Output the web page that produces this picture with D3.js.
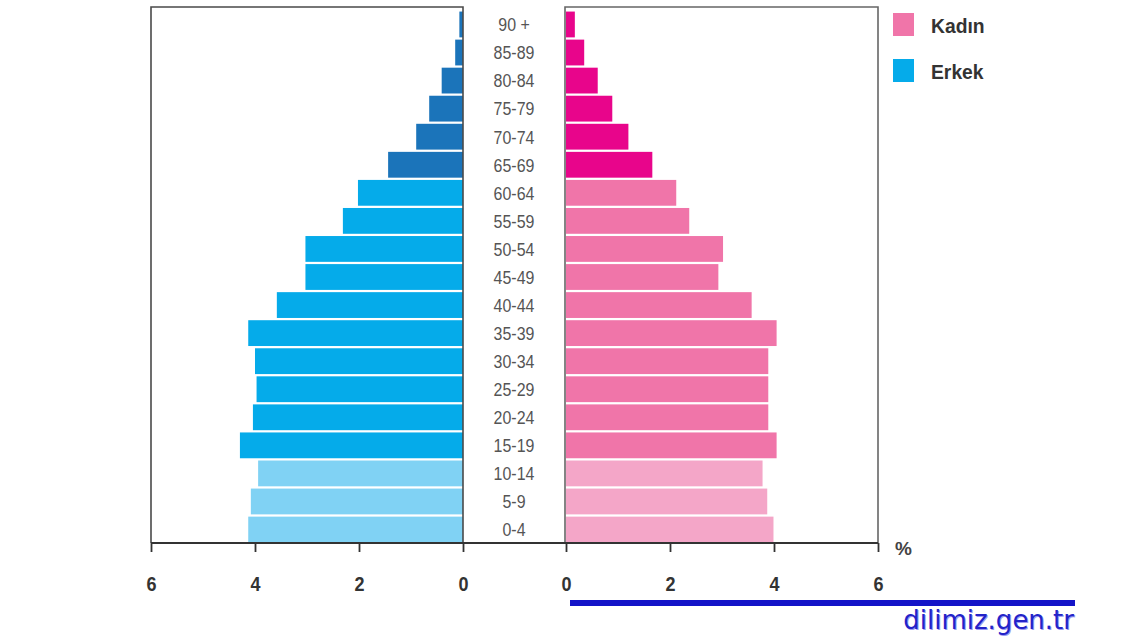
<!DOCTYPE html>
<html>
<head>
<meta charset="utf-8">
<script src="https://cdn.jsdelivr.net/npm/d3@7/dist/d3.min.js"></script>
<style>
  html, body { margin: 0; padding: 0; background: #ffffff; }
  svg { display: block; }
  .narrow { font-family: "Liberation Sans Narrow", "Arial Narrow", "Liberation Sans", Arial, sans-serif; }
</style>
</head>
<body>
<svg id="chart" width="1140" height="641"></svg>
<script>
// ---- data (percent of population) ----
const ageGroups = ["0-4","5-9","10-14","15-19","20-24","25-29","30-34","35-39","40-44","45-49",
                   "50-54","55-59","60-64","65-69","70-74","75-79","80-84","85-89","90 +"];
const erkek = [4.13, 4.08, 3.94, 4.29, 4.04, 3.97, 4.0, 4.13, 3.58, 3.03,
               3.03, 2.31, 2.02, 1.44, 0.9, 0.65, 0.41, 0.15, 0.07];
const kadin = [3.99, 3.87, 3.78, 4.05, 3.89, 3.89, 3.89, 4.05, 3.57, 2.93,
               3.02, 2.37, 2.12, 1.66, 1.2, 0.89, 0.61, 0.35, 0.17];
const tickValues = [0, 2, 4, 6];
const legendLabels = ["Kadın", "Erkek"];

// colour groups: 0-14 light, 15-64 medium, 65+ dark
const erkekColors = { young: "#80d2f4", adult: "#05abea", old: "#1b74ba" };
const kadinColors = { young: "#f4a6c8", adult: "#f075a9", old: "#e8058b" };
function group(i) { return i <= 2 ? "young" : (i <= 12 ? "adult" : "old"); }

const svg = d3.select("#chart");

const yTop = 7, yBottom = 543;
const xL = d3.scaleLinear().domain([0, 6]).range([463, 151]);
const xR = d3.scaleLinear().domain([0, 6]).range([566, 878]);
const y = d3.scaleBand().domain(ageGroups.slice().reverse()).range([11, 543]).paddingInner(0.08).paddingOuter(0.02);

// left bars
svg.append("g").selectAll("rect").data(erkek).join("rect")
  .attr("x", d => xL(d))
  .attr("y", (d, i) => y(ageGroups[i]))
  .attr("width", d => xL(0) - xL(d))
  .attr("height", y.bandwidth())
  .attr("fill", (d, i) => erkekColors[group(i)]);

// right bars
svg.append("g").selectAll("rect").data(kadin).join("rect")
  .attr("x", xR(0))
  .attr("y", (d, i) => y(ageGroups[i]))
  .attr("width", d => xR(d) - xR(0))
  .attr("height", y.bandwidth())
  .attr("fill", (d, i) => kadinColors[group(i)]);

// frames
svg.append("path")
  .attr("d", `M${xL(0)},${yBottom} V${yTop} H${xL(6)} V${yBottom}`)
  .attr("fill", "none").attr("stroke", "#4a4a4a").attr("stroke-width", 1.6);
svg.append("path")
  .attr("d", `M${xR(0) - 1},${yBottom} V${yTop} H${xR(6)} V${yBottom}`)
  .attr("fill", "none").attr("stroke", "#666").attr("stroke-width", 1.6);

// bottom axes
const axisL = d3.axisBottom(xL).tickValues(tickValues).tickSize(9).tickPadding(25).tickFormat(d3.format("d"));
const axisR = d3.axisBottom(xR).tickValues(tickValues).tickSize(9).tickPadding(25).tickFormat(d3.format("d"));
[axisL, axisR].forEach(ax => {
  const g = svg.append("g").attr("transform", `translate(0,${yBottom})`).call(ax);
  g.select(".domain").remove();
  g.selectAll(".tick line").attr("stroke", "#333").attr("stroke-width", 1.8);
  g.selectAll(".tick text")
    .attr("class", "narrow")
    .attr("fill", "#333")
    .attr("font-size", 20)
    .attr("font-weight", "bold")
    .attr("dy", "0.71em")
    .attr("transform", "scale(0.9,1)")
    .attr("x", function() { return 0; });
});
svg.append("line")
  .attr("x1", xL(6)).attr("x2", xR(6))
  .attr("y1", yBottom).attr("y2", yBottom)
  .attr("stroke", "#333").attr("stroke-width", 2);

svg.append("text").attr("class", "narrow")
  .attr("x", 895).attr("y", 555)
  .attr("font-size", 19).attr("font-weight", "bold").attr("fill", "#444")
  .text("%");

// age labels (horizontally condensed like the original narrow face)
svg.append("g").selectAll("text").data(ageGroups).join("text")
  .attr("class", "narrow")
  .attr("transform", d => `translate(514,${y(d) + y.bandwidth() / 2}) scale(0.84,1)`)
  .attr("dy", "0.36em")
  .attr("text-anchor", "middle")
  .attr("font-size", 19)
  .attr("fill", "#555")
  .text(d => d);

// legend
const legendColors = [kadinColors.adult, erkekColors.adult];
const lg = svg.append("g");
legendLabels.forEach((lab, i) => {
  lg.append("rect")
    .attr("x", 893).attr("y", 13 + i * 46)
    .attr("width", 21).attr("height", 23)
    .attr("fill", legendColors[i]);
  lg.append("text").attr("class", "narrow")
    .attr("transform", `translate(931,${25 + i * 46}) scale(0.92,1)`)
    .attr("dy", "0.36em")
    .attr("font-size", 21).attr("font-weight", "bold")
    .attr("fill", "#333")
    .text(lab);
});

// watermark
svg.append("rect")
  .attr("x", 570).attr("y", 600).attr("width", 505).attr("height", 6)
  .attr("fill", "#1414c8");
svg.append("text")
  .attr("x", 1074).attr("y", 629)
  .attr("text-anchor", "end")
  .attr("font-family", "'DejaVu Sans', Verdana, sans-serif")
  .attr("font-size", 26)
  .attr("fill", "#9a9af2")
  .attr("transform", "translate(1,1)")
  .text("dilimiz.gen.tr");
svg.append("text")
  .attr("x", 1074).attr("y", 629)
  .attr("text-anchor", "end")
  .attr("font-family", "'DejaVu Sans', Verdana, sans-serif")
  .attr("font-size", 26)
  .attr("fill", "#2323c8")
  .text("dilimiz.gen.tr");
</script>
</body>
</html>
